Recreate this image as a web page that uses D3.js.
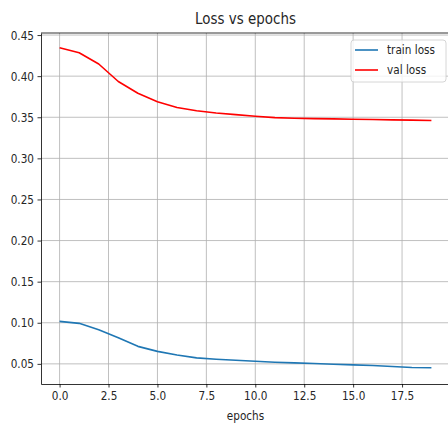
<!DOCTYPE html>
<html>
<head>
<meta charset="utf-8">
<script src="https://cdn.jsdelivr.net/npm/d3@7"></script>
<style>
	body { margin: 0; background: #fff; overflow: hidden; }
	svg { display: block; }
	text { font-family: "DejaVu Sans", sans-serif; fill: #262626; }
</style>
</head>
<body>
<div class="chart"></div>
<script>
const epochs = d3.range(0, 20);
const trainLoss = [0.1017, 0.0993, 0.0915, 0.0818, 0.0713, 0.0652, 0.0608, 0.0573, 0.0556, 0.0544,
	0.0532, 0.0520, 0.0512, 0.0504, 0.0496, 0.0488, 0.0480, 0.0468, 0.0456, 0.0452];
const valLoss = [0.4346, 0.4285, 0.4148, 0.3935, 0.3792, 0.3689, 0.3619, 0.3580, 0.3552, 0.3532,
	0.3512, 0.3495, 0.3487, 0.3483, 0.3480, 0.3475, 0.3472, 0.3468, 0.3465, 0.3460];
const xTicks = [0, 2.5, 5, 7.5, 10, 12.5, 15, 17.5];
const yTicks = [0.05, 0.10, 0.15, 0.20, 0.25, 0.30, 0.35, 0.40, 0.45];
const seriesNames = ["train loss", "val loss"];
const seriesColors = ["#1f77b4", "#ff0000"];

const width = 448;
const height = 423;
const margin = { top: 33, right: -2, bottom: 39, left: 41 };
const innerWidth = width - margin.left - margin.right;
const innerHeight = height - margin.top - margin.bottom;
// the text in the picture is squeezed sideways
const squeeze = 0.84;

const render = () => {
	const series = [trainLoss, valLoss];

	const x = d3.scaleLinear()
		.domain([-0.95, 19.95])
		.range([0, innerWidth]);
	const y = d3.scaleLinear()
		.domain([0.0255, 0.4525])
		.range([innerHeight, 0]);

	const svg = d3.select(".chart")
		.append("svg")
		.attr("width", width)
		.attr("height", height)
		.append("g")
		.attr("transform", `translate(${margin.left},${margin.top})`);

	// grid
	svg.append("g")
		.selectAll("line")
		.data(xTicks)
		.enter()
		.append("line")
		.attr("x1", d => x(d)).attr("x2", d => x(d))
		.attr("y1", 0).attr("y2", innerHeight)
		.attr("stroke", "#b0b0b0")
		.attr("stroke-width", 0.8);
	svg.append("g")
		.selectAll("line")
		.data(yTicks)
		.enter()
		.append("line")
		.attr("x1", 0).attr("x2", innerWidth)
		.attr("y1", d => y(d)).attr("y2", d => y(d))
		.attr("stroke", "#b0b0b0")
		.attr("stroke-width", 0.8);

	const line = d3.line()
		.x((d, i) => x(epochs[i]))
		.y(d => y(d));

	svg.selectAll(".series")
		.data(series)
		.enter()
		.append("path")
		.attr("class", "series")
		.attr("d", line)
		.attr("fill", "none")
		.attr("stroke", (d, i) => seriesColors[i])
		.attr("stroke-width", 1.6)
		.attr("stroke-linejoin", "round");

	const xAxis = d3.axisBottom(x)
		.tickValues(xTicks)
		.tickFormat(d3.format(".1f"))
		.tickSizeInner(3.5)
		.tickSizeOuter(0)
		.tickPadding(3.5);
	const yAxis = d3.axisLeft(y)
		.tickValues(yTicks)
		.tickFormat(d3.format(".2f"))
		.tickSizeInner(3.5)
		.tickSizeOuter(0)
		.tickPadding(3.5);

	const gx = svg.append("g")
		.attr("transform", `translate(0,${innerHeight})`)
		.call(xAxis);
	const gy = svg.append("g").call(yAxis);

	[gx, gy].forEach(g => {
		g.select(".domain").attr("stroke", "#000").attr("stroke-width", 0.8);
		g.selectAll(".tick line").attr("stroke", "#000").attr("stroke-width", 0.8);
		g.selectAll(".tick text")
			.attr("font-size", 12.5)
			.attr("font-family", "DejaVu Sans")
			.attr("fill", "#262626")
			.attr("transform", `scale(${squeeze},1)`);
	});
	gy.selectAll(".tick text").attr("x", -7 / squeeze);

	// top spine
	svg.append("line")
		.attr("x1", 0).attr("x2", innerWidth)
		.attr("y1", 0).attr("y2", 0)
		.attr("stroke", "#000")
		.attr("stroke-width", 0.8);

	svg.append("text")
		.attr("transform", `translate(${innerWidth / 2},-9) scale(${squeeze},1)`)
		.attr("text-anchor", "middle")
		.attr("font-size", 16)
		.text("Loss vs epochs");

	svg.append("text")
		.attr("transform", `translate(${innerWidth / 2},${innerHeight + 36}) scale(${squeeze},1)`)
		.attr("text-anchor", "middle")
		.attr("font-size", 12.5)
		.text("epochs");

	// legend
	const legend = svg.append("g")
		.attr("transform", `translate(${310},${7})`);
	legend.append("rect")
		.attr("width", 95)
		.attr("height", 42)
		.attr("rx", 3)
		.attr("fill", "#fff")
		.attr("fill-opacity", 0.8)
		.attr("stroke", "#cccccc")
		.attr("stroke-width", 0.8);
	const item = legend.selectAll(".item")
		.data(seriesNames)
		.enter()
		.append("g")
		.attr("class", "item")
		.attr("transform", (d, i) => `translate(4,${10 + i * 20})`);
	item.append("line")
		.attr("x1", 0).attr("x2", 23)
		.attr("stroke", (d, i) => seriesColors[i])
		.attr("stroke-width", 1.6);
	item.append("text")
		.attr("transform", `translate(32,0) scale(${squeeze},1)`)
		.attr("dy", "0.35em")
		.attr("font-size", 12.5)
		.text(d => d);
};

document.addEventListener("DOMContentLoaded", render);
</script>
</body>
</html>
